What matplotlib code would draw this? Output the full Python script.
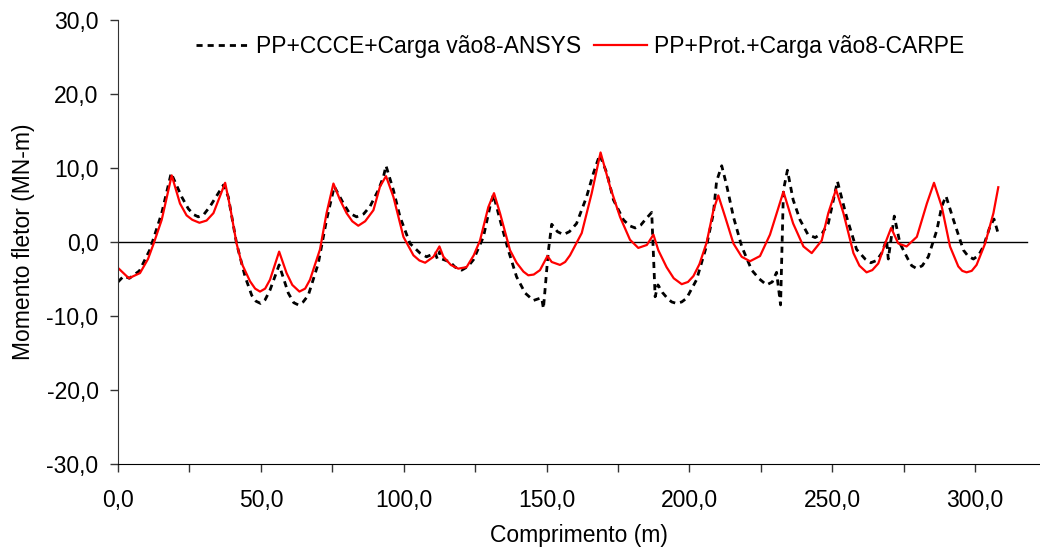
import matplotlib
matplotlib.use('Agg')
import matplotlib.pyplot as plt
from matplotlib.ticker import MultipleLocator, FuncFormatter

plt.rcParams['font.family'] = ['Liberation Sans', 'DejaVu Sans']
plt.rcParams['font.size'] = 16.5

# ANSYS curve (dashed black)
x_ansys = [0, 2.0, 4.0, 7.5, 11.2, 15.3, 18.6, 22.3, 24.6, 26.5,
           28.1, 30.0, 32.2, 35.1, 36.9, 38.6, 41.5, 44.5, 46.8, 48.3,
           49.9, 51.5, 53.2, 56.4, 59.6, 61.5, 63.1, 64.8, 66.6, 70.1,
           73.0, 75.7, 78.9, 81.0, 83.5, 86.0, 88.2, 91.1, 92.9, 93.8,
           96.4, 98.7, 102.2, 105.7, 108.0, 111.0, 111.8, 112.6, 113.4, 116.2,
           118.0, 120.3, 122.5, 124.4, 127.9, 130.2, 131.4, 133.7, 136.6, 139.5,
           142.5, 145.4, 147.7, 148.3, 148.9, 150.6, 151.8, 153.8, 155.9, 158.0,
           160.5, 164.0, 166.4, 168.6, 171.1, 173.4, 176.9, 179.0, 181.0, 183.0,
           184.5, 186.8, 188.0, 189.0, 190.5, 192.5, 193.8, 195.5, 197.3, 199.0,
           202.5, 206.0, 208.4, 209.5, 211.3, 213.0, 215.4, 218.3, 221.8, 224.5,
           227.0, 229.0, 230.5, 231.9, 232.9, 234.3, 236.3, 238.7, 241.5, 244.0,
           246.5, 248.6, 250.4, 251.8, 255.0, 258.5, 261.5, 263.5, 265.5, 267.3,
           269.0, 269.6, 271.7, 273.7, 276.6, 277.8, 279.6, 281.5, 283.6, 286.6,
           288.3, 289.8, 292.4, 295.9, 297.5, 299.4, 301.2, 302.9, 305.2, 306.6,
           308.1]
y_ansys = [-5.4, -4.6, -4.9, -3.9, -1.0, 3.9, 9.3, 6.1, 4.5, 3.7,
           3.4, 3.7, 4.8, 6.6, 7.7, 6.1, -0.2, -4.7, -7.2, -8.0,
           -8.3, -7.8, -6.5, -3.1, -6.9, -8.2, -8.5, -8.1, -7.2, -2.9,
           3.0, 7.5, 5.2, 3.9, 3.4, 3.8, 4.8, 7.0, 8.8, 10.3,
           7.0, 3.4, -0.2, -1.5, -2.0, -1.5, -2.3, -1.3, -2.3, -2.7,
           -3.4, -3.8, -3.3, -2.4, 0.7, 4.8, 6.4, 3.0, -1.1, -4.7,
           -6.9, -7.9, -7.6, -7.6, -9.0, -1.3, 2.4, 1.4, 1.0, 1.4,
           2.5, 6.1, 9.3, 11.8, 9.3, 5.7, 3.0, 2.2, 1.9, 2.3,
           3.0, 4.0, -7.4, -5.8, -6.8, -7.7, -8.1, -8.3, -8.1, -7.6,
           -5.1, -0.5, 3.9, 8.2, 10.3, 7.7, 3.4, -0.6, -3.8, -5.0,
           -5.8, -5.4, -4.1, -8.5, 7.0, 9.7, 5.7, 3.0, 1.0, 0.6,
           1.2, 2.5, 5.7, 8.2, 3.4, -1.0, -2.3, -2.8, -2.5, -1.5,
           0.3, -2.3, 3.5, -0.2, -2.4, -3.2, -3.6, -3.2, -2.0, 1.6,
           4.8, 6.2, 3.0, -1.1, -1.9, -2.3, -1.8, -0.6, 2.1, 3.1,
           1.1]

# CARPE curve (solid red)
x_carpe = [0, 3.8, 7.7, 10.5, 12.4, 15.3, 18.8, 21.7, 24.0, 26.0,
           28.5, 31.0, 33.4, 37.5, 39.2, 41.5, 43.3, 46.2, 48.0, 49.7,
           51.5, 53.2, 56.4, 59.0, 61.0, 63.5, 65.5, 67.2, 70.7, 73.0,
           75.4, 77.7, 80.0, 82.0, 84.1, 86.5, 89.4, 91.7, 93.8, 96.4,
           99.9, 103.4, 105.5, 107.5, 110.4, 112.5, 113.9, 116.5, 119.1, 122.0,
           124.5, 126.7, 129.6, 131.6, 133.7, 137.2, 139.5, 141.9, 143.6, 145.5,
           147.7, 150.3, 151.8, 154.7, 156.5, 158.2, 162.3, 165.8, 168.9, 172.2,
           175.7, 179.2, 182.1, 185.1, 187.4, 189.1, 192.0, 194.5, 197.3, 199.5,
           201.4, 203.5, 206.0, 208.4, 210.1, 212.5, 215.4, 218.3, 221.2, 224.7,
           228.2, 232.9, 236.3, 239.9, 242.8, 246.3, 248.6, 251.3, 253.9, 257.4,
           259.5, 262.0, 264.0, 266.1, 269.0, 270.6, 273.1, 276.0, 279.6, 283.1,
           285.6, 288.3, 291.2, 294.1, 295.5, 297.0, 298.8, 300.5, 303.5, 306.4,
           308.1]
y_carpe = [-3.5, -4.9, -4.2, -2.3, -0.3, 3.0, 9.0, 5.2, 3.6, 3.0,
           2.6, 2.9, 3.9, 8.0, 4.8, -0.2, -2.9, -5.3, -6.3, -6.7,
           -6.3, -5.1, -1.3, -4.2, -5.8, -6.7, -6.3, -5.1, -1.0, 3.9,
           7.9, 5.7, 3.9, 2.8, 2.2, 2.8, 4.3, 7.5, 8.9, 6.1,
           0.7, -1.8, -2.5, -2.8, -2.0, -0.6, -2.0, -3.1, -3.6, -3.4,
           -1.8, 0.2, 4.7, 6.6, 3.9, -1.1, -2.8, -4.0, -4.5, -4.4,
           -3.8, -1.9, -2.7, -3.1, -2.7, -1.8, 1.2, 6.6, 12.1, 7.5,
           3.4, 0.3, -0.8, -0.4, 1.0, -1.1, -3.4, -4.9, -5.7, -5.4,
           -4.6, -3.0, -0.1, 4.3, 6.3, 3.4, -0.2, -2.0, -2.6, -1.9,
           1.0, 6.8, 2.5, -0.6, -1.5, 0.2, 3.9, 7.1, 3.9, -1.5,
           -3.2, -4.1, -3.8, -2.9, 0.3, 1.9, -0.2, -0.6, 0.7, 5.2,
           8.0, 4.8, -0.6, -3.3, -3.9, -4.1, -3.9, -3.1, -0.2, 3.9,
           7.4]

# zero reference line
x_zero = [0, 318]
y_zero = [0, 0]

label_ansys = 'PP+CCCE+Carga vão8-ANSYS'
label_carpe = 'PP+Prot.+Carga vão8-CARPE'

fig = plt.figure(figsize=(10.4, 5.52), dpi=100)
ax = fig.add_axes([118/1040, 1 - 464/552, 1 - 118/1040, 444/552])

ax.plot(x_zero, y_zero, color='black', lw=1.0)
ax.plot(x_ansys, y_ansys, color='black', lw=2.0, linestyle=(0, (2.2, 1.8)), label=label_ansys)
ax.plot(x_carpe, y_carpe, color='#ff0000', lw=1.6, label=label_carpe)

ax.set_xlim(0, 322.7)
ax.set_ylim(-30, 30)
ax.xaxis.set_major_locator(MultipleLocator(50))
ax.xaxis.set_minor_locator(MultipleLocator(25))
ax.yaxis.set_major_locator(MultipleLocator(10))
fmt = FuncFormatter(lambda v, p: f'{v:.1f}'.replace('.', ','))
ax.xaxis.set_major_formatter(fmt)
ax.yaxis.set_major_formatter(fmt)

for s in ['top', 'right']:
    ax.spines[s].set_visible(False)
ax.spines['left'].set_color('#333333')
ax.spines['bottom'].set_color('black')
ax.tick_params(axis='both', which='both', direction='out', length=6, width=1, color='#333333')
ax.tick_params(axis='x', pad=12)
ax.tick_params(axis='y', pad=8)

ax.set_xlabel('Comprimento (m)')
ax.set_ylabel('Momento fletor (MN-m)')
ax.xaxis.set_label_coords(0.5, -0.135)
ax.yaxis.set_label_coords(-0.09, 0.5)

leg = ax.legend(loc='center left', bbox_to_anchor=(196/1040, 1 - 47/552),
                bbox_transform=fig.transFigure, ncol=2, frameon=False,
                borderpad=0, borderaxespad=0, handlelength=2.3,
                handletextpad=0.3, columnspacing=0.6)

fig.savefig('out.png', dpi=100)
